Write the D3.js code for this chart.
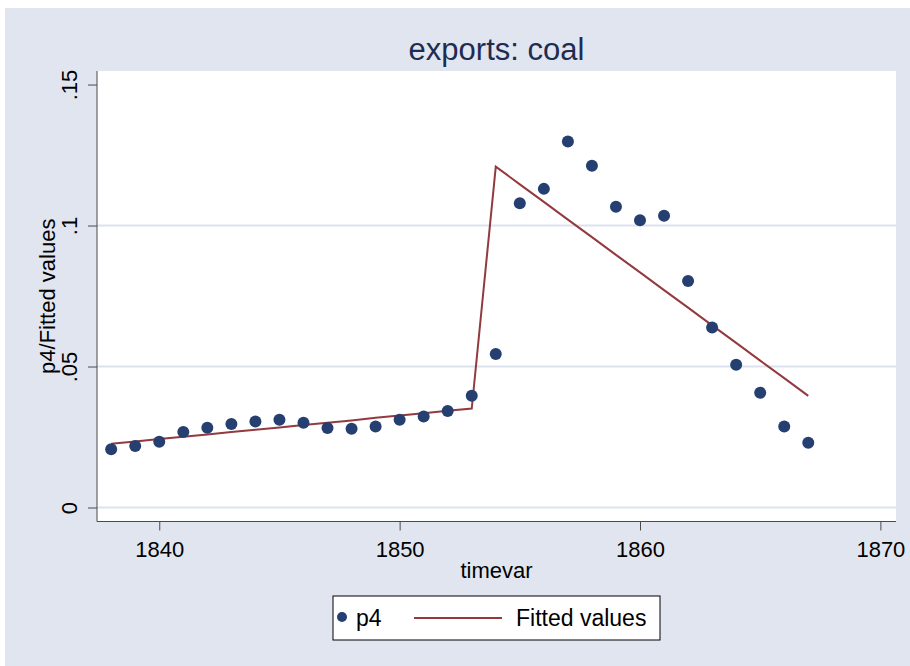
<!DOCTYPE html>
<html>
<head>
<meta charset="utf-8">
<script src="https://cdn.jsdelivr.net/npm/d3@7"></script>
<style>
  html, body { margin: 0; padding: 0; background: #fff; }
  svg { display: block; font-family: "Liberation Sans", Arial, sans-serif; }
</style>
</head>
<body>
<svg id="chart" width="910" height="666"></svg>
<script>
// values
const years = [1838, 1839, 1840, 1841, 1842, 1843, 1844, 1845, 1846, 1847,
               1848, 1849, 1850, 1851, 1852, 1853, 1854, 1855, 1856, 1857,
               1858, 1859, 1860, 1861, 1862, 1863, 1864, 1865, 1866, 1867];
const p4 = [0.0207, 0.0218, 0.0233, 0.0268, 0.0283, 0.0296, 0.0305, 0.0311, 0.0301, 0.0282,
            0.0279, 0.0287, 0.0311, 0.0323, 0.0342, 0.0396, 0.0544, 0.1079, 0.1130, 0.1298,
            0.1212, 0.1067, 0.1019, 0.1035, 0.0803, 0.0638, 0.0506, 0.0407, 0.0287, 0.0230];
const fitted = [0.0226, 0.0234, 0.0243, 0.0251, 0.0259, 0.0268, 0.0276, 0.0284, 0.0293, 0.0301,
                0.0309, 0.0318, 0.0326, 0.0334, 0.0343, 0.0351, 0.1209, 0.1146, 0.1084, 0.1021,
                0.0959, 0.0896, 0.0834, 0.0771, 0.0709, 0.0646, 0.0584, 0.0521, 0.0459, 0.0396];
const xTicks = [1840, 1850, 1860, 1870];
const yTicks = [0, 0.05, 0.1, 0.15];
const yGrid = [0, 0.05, 0.1];

const BG = '#e1e5ef';
const NAVY = '#243f70';
const MAROON = '#923a3f';
const GRID = '#dce2ee';
const AXIS = '#4a4a4a';

const svg = d3.select('#chart');
const plot = { left: 97, right: 896, top: 71, bottom: 521.5 };

svg.append('rect').attr('x', 5).attr('y', 8).attr('width', 905).attr('height', 658).attr('fill', BG);
svg.append('rect')
  .attr('x', plot.left).attr('y', plot.top)
  .attr('width', plot.right - plot.left).attr('height', plot.bottom - plot.top)
  .attr('fill', '#fff');

const x = d3.scaleLinear().domain([1837.41, 1870.65]).range([plot.left, plot.right]);
const y = d3.scaleLinear().domain([-0.00496, 0.1548]).range([plot.bottom, plot.top]);

// grid
svg.append('g').selectAll('line')
  .data(yGrid)
  .join('line')
  .attr('x1', plot.left).attr('x2', plot.right)
  .attr('y1', d => y(d)).attr('y2', d => y(d))
  .attr('stroke', GRID).attr('stroke-width', 2);

// axes
const fmtY = d => d === 0 ? '0' : String(d).replace(/^0/, '');

const gy = svg.append('g')
  .attr('transform', `translate(${plot.left},0)`)
  .call(d3.axisLeft(y).tickValues(yTicks).tickSize(9).tickFormat(fmtY));
gy.select('.domain').attr('d', `M0,${plot.top}V${plot.bottom}`).attr('stroke', AXIS);
gy.selectAll('.tick line').attr('stroke', AXIS);
gy.selectAll('.tick text')
  .attr('transform', 'rotate(-90)')
  .attr('x', 0).attr('y', -20.5).attr('dy', 0)
  .attr('text-anchor', 'middle')
  .attr('fill', '#000')
  .style('font-size', '22px')
  .style('font-family', '"Liberation Sans", Arial, sans-serif');

const gx = svg.append('g')
  .attr('transform', `translate(0,${plot.bottom})`)
  .call(d3.axisBottom(x).tickValues(xTicks).tickSize(9).tickFormat(d3.format('d')));
gx.select('.domain').attr('d', `M${plot.left},0H${plot.right}`).attr('stroke', AXIS);
gx.selectAll('.tick line').attr('stroke', AXIS);
gx.selectAll('.tick text')
  .attr('y', 35.5).attr('dy', 0)
  .attr('fill', '#000')
  .style('font-size', '22px')
  .style('font-family', '"Liberation Sans", Arial, sans-serif');

// fitted line
const line = d3.line().x((d, i) => x(years[i])).y(d => y(d));
svg.append('path')
  .datum(fitted)
  .attr('d', line)
  .attr('fill', 'none')
  .attr('stroke', MAROON)
  .attr('stroke-width', 2);

// points
svg.append('g').selectAll('circle')
  .data(p4)
  .join('circle')
  .attr('cx', (d, i) => x(years[i]))
  .attr('cy', d => y(d))
  .attr('r', 6)
  .attr('fill', NAVY);

// titles
svg.append('text')
  .attr('x', (plot.left + plot.right) / 2).attr('y', 59.5)
  .attr('text-anchor', 'middle')
  .attr('fill', '#1f2c52')
  .style('font-size', '31px')
  .text('exports: coal');

svg.append('text')
  .attr('x', (plot.left + plot.right) / 2).attr('y', 578)
  .attr('text-anchor', 'middle')
  .style('font-size', '22px')
  .text('timevar');

svg.append('text')
  .attr('transform', `translate(55,${(plot.top + plot.bottom) / 2}) rotate(-90)`)
  .attr('text-anchor', 'middle')
  .style('font-size', '22px')
  .text('p4/Fitted values');

// legend
const lg = svg.append('g');
lg.append('rect')
  .attr('x', 333).attr('y', 596).attr('width', 327).attr('height', 44)
  .attr('fill', '#fff').attr('stroke', '#000').attr('stroke-width', 1);
lg.append('circle').attr('cx', 342).attr('cy', 617).attr('r', 5).attr('fill', NAVY);
lg.append('text').attr('x', 356).attr('y', 626).style('font-size', '23px').text('p4');
lg.append('line')
  .attr('x1', 414).attr('x2', 502).attr('y1', 618).attr('y2', 618)
  .attr('stroke', MAROON).attr('stroke-width', 2);
lg.append('text').attr('x', 516).attr('y', 626).style('font-size', '23px').text('Fitted values');
</script>
</body>
</html>
